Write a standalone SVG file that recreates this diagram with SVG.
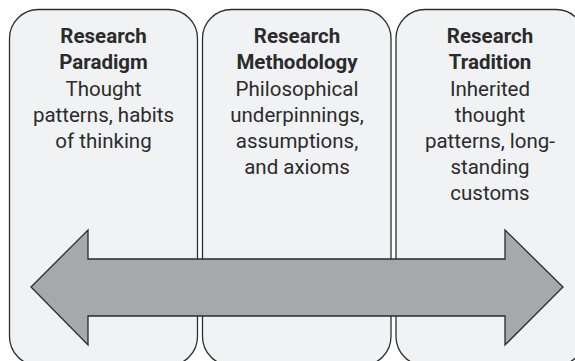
<svg xmlns="http://www.w3.org/2000/svg" width="575" height="361" viewBox="0 0 575 361">
  <style>
    .panel { fill: #f1f2f4; stroke: #2e2e2e; stroke-width: 1.3; }
    .arrow { fill: #a7a8ab; stroke: #2a2a2a; stroke-width: 1.3; stroke-linejoin: miter; }
    text { font-family: Roboto, "Liberation Sans", sans-serif; font-size: 20.5px; fill: #2b2b2b; text-anchor: middle; }
    .title { font-weight: bold; }
  </style>
  <rect width="575" height="361" fill="#ffffff"/>

  <g id="paradigm">
    <rect class="panel" x="9.5" y="9.5" width="188" height="356" rx="29" ry="29"/>
    <text x="103.5" y="43" class="title">Research</text>
    <text x="103.5" y="69" class="title">Paradigm</text>
    <text x="103.5" y="96">Thought</text>
    <text x="103.5" y="122">patterns, habits</text>
    <text x="103.5" y="148">of thinking</text>
  </g>

  <g id="methodology">
    <rect class="panel" x="202.5" y="9.5" width="188.5" height="356" rx="29" ry="29"/>
    <text x="297" y="43" class="title">Research</text>
    <text x="297" y="69" class="title">Methodology</text>
    <text x="297" y="96">Philosophical</text>
    <text x="297" y="122">underpinnings,</text>
    <text x="297" y="148">assumptions,</text>
    <text x="297" y="174">and axioms</text>
  </g>

  <g id="tradition">
    <rect class="panel" x="396" y="9.5" width="189" height="356" rx="29" ry="29"/>
    <text x="490" y="43" class="title">Research</text>
    <text x="490" y="69" class="title">Tradition</text>
    <text x="490" y="96">Inherited</text>
    <text x="490" y="122">thought</text>
    <text x="490" y="148">patterns, long-</text>
    <text x="490" y="174">standing</text>
    <text x="490" y="200">customs</text>
  </g>

  <g id="connectors">
    <polygon class="arrow" points="31,287 88,230 88,259 505,259 505,230 563,287 505,345 505,316 88,316 88,345"/>
  </g>
</svg>
